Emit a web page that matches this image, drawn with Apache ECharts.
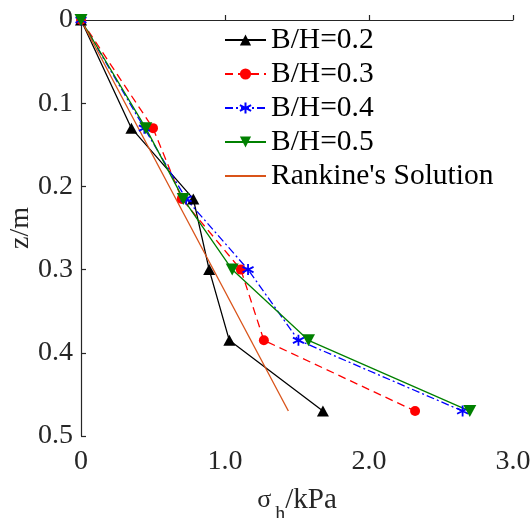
<!DOCTYPE html>
<html>
<head>
<meta charset="utf-8">
<script src="https://cdn.jsdelivr.net/npm/echarts@6/dist/echarts.min.js"></script>
<style>
  html, body { margin: 0; padding: 0; background: #fff; }
  #chart { width: 532px; height: 518px; }
</style>
</head>
<body>
<div id="chart"></div>
<script>
// Depths (m) at which horizontal earth pressure was measured
const depths = [0, 0.13, 0.215, 0.30, 0.385, 0.47];

// Horizontal pressure sigma_h (kPa) for each width/height ratio
const sigmaBH02 = [0, 0.35, 0.78, 0.89, 1.03, 1.68];
const sigmaBH03 = [0, 0.50, 0.70, 1.11, 1.27, 2.32];
const sigmaBH04 = [0, 0.44, 0.73, 1.16, 1.51, 2.65];
const sigmaBH05 = [0, 0.45, 0.71, 1.05, 1.58, 2.70];

// Rankine theoretical line
const rankineSigma = [0, 1.44];
const rankineDepth = [0, 0.47];

const xTicks = ['0', '1.0', '2.0', '3.0'];
const yTicks = ['0', '0.1', '0.2', '0.3', '0.4', '0.5'];

const seriesNames = ['B/H=0.2', 'B/H=0.3', 'B/H=0.4', 'B/H=0.5', "Rankine's Solution"];

const pairs = (xs, ys) => xs.map((x, i) => [x, ys[i]]);

const FONT = 'Liberation Serif';
const TXT = '#262626';

const asterisk = 'path://M0,-10L0,10M-8.66,-5L8.66,5M-8.66,5L8.66,-5';

const chart = echarts.init(document.getElementById('chart'), null, { renderer: 'canvas' });

chart.setOption({
  animation: false,
  backgroundColor: '#fff',
  grid: { left: 81, top: 20, width: 432, height: 416, containLabel: false, outerBoundsMode: 'none' },
  legend: {
    orient: 'vertical',
    left: 219,
    top: 20,
    itemWidth: 41,
    itemHeight: 14,
    itemGap: 4,
    textStyle: { fontFamily: FONT, fontSize: 29.5, color: '#000', lineHeight: 29 },
    data: seriesNames.slice(0, 4).concat([
      { name: seriesNames[4], itemStyle: { color: 'rgba(0,0,0,0)', borderWidth: 0 } }
    ])
  },
  xAxis: {
    type: 'value',
    min: 0, max: 3, interval: 1,
    name: '{s|σ}{sub|h}/kPa',
    nameLocation: 'middle',
    nameGap: 50,
    nameMoveOverlap: false,
    nameTextStyle: {
      fontFamily: FONT, fontSize: 29, color: TXT,
      rich: {
        s: { fontFamily: FONT, fontSize: 26, color: TXT },
        sub: { fontFamily: FONT, fontSize: 20, color: TXT, verticalAlign: 'bottom', padding: [0, 0, -10, 4] }
      }
    },
    axisLine: { lineStyle: { color: '#262626', width: 1.2 } },
    axisTick: { inside: true, length: 5, lineStyle: { color: '#262626', width: 1.2 } },
    axisLabel: {
      fontFamily: FONT, fontSize: 28, color: TXT, margin: 12,
      formatter: v => xTicks[Math.round(v)]
    },
    splitLine: { show: false }
  },
  yAxis: {
    type: 'value',
    inverse: true,
    min: 0, max: 0.5, interval: 0.1,
    name: 'z/m',
    nameLocation: 'middle',
    nameGap: 46,
    nameMoveOverlap: false,
    nameRotate: 90,
    nameTextStyle: { fontFamily: FONT, fontSize: 28, color: TXT },
    axisLine: { lineStyle: { color: '#262626', width: 1.2 } },
    axisTick: { inside: true, length: 5, lineStyle: { color: '#262626', width: 1.2 } },
    axisLabel: {
      fontFamily: FONT, fontSize: 28, color: TXT, margin: 8,
      formatter: v => yTicks[Math.round(v * 10)]
    },
    splitLine: { show: false }
  },
  series: [
    {
      name: seriesNames[0], type: 'line',
      data: pairs(sigmaBH02, depths),
      symbol: 'triangle', symbolSize: [12, 11],
      lineStyle: { color: '#000', width: 1.3 },
      itemStyle: { color: '#000' }
    },
    {
      name: seriesNames[1], type: 'line',
      data: pairs(sigmaBH03, depths),
      symbol: 'circle', symbolSize: 10,
      lineStyle: { color: '#ff0000', width: 1.3, type: [8, 5] },
      itemStyle: { color: '#ff0000' }
    },
    {
      name: seriesNames[2], type: 'line',
      data: pairs(sigmaBH04, depths),
      symbol: asterisk, symbolSize: 11,
      lineStyle: { color: '#0000ff', width: 1.3, type: [8, 3, 2, 3] },
      itemStyle: { color: 'none', borderColor: '#0000ff', borderWidth: 1.8 }
    },
    {
      name: seriesNames[3], type: 'line',
      data: pairs(sigmaBH05, depths),
      symbol: 'triangle', symbolRotate: 180, symbolSize: [13, 12],
      lineStyle: { color: '#008000', width: 1.3 },
      itemStyle: { color: '#008000' }
    },
    {
      name: seriesNames[4], type: 'line',
      data: pairs(rankineSigma, rankineDepth),
      symbol: 'none',
      lineStyle: { color: '#d95319', width: 1.3 },
      itemStyle: { color: '#d95319' }
    }
  ]
});
</script>
</body>
</html>
